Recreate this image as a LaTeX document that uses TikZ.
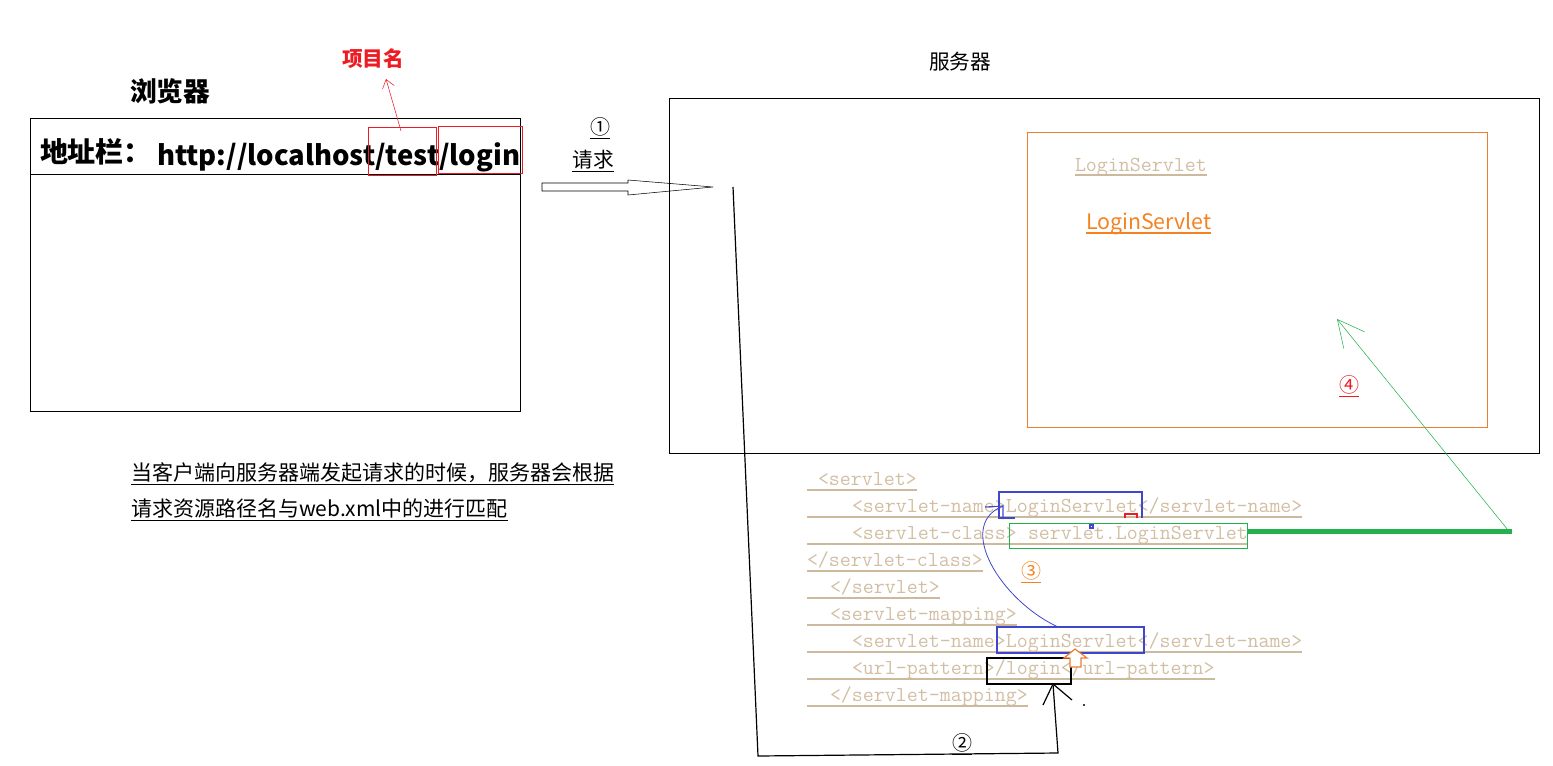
\documentclass[tikz,border=0pt]{standalone}
\usepackage{fontspec}
\setmainfont{Noto Sans CJK SC}
\usetikzlibrary{arrows.meta,fit,calc}
\definecolor{redc}{HTML}{ED1C24}
\definecolor{orangec}{HTML}{ED7D31}
\definecolor{orangetxt}{HTML}{F58220}
\definecolor{tanc}{HTML}{D2BEA3}
\definecolor{tanul}{HTML}{CDB99E}
\definecolor{bluec}{HTML}{3F48CC}
\definecolor{greenc}{HTML}{22B14C}
\tikzset{
  frame/.style={draw, inner sep=0pt, outer sep=0pt},
  lbl/.style={inner sep=0pt, outer sep=0pt},
  xmltxt/.style={lbl, anchor=base west, text=tanc, font=\ttfamily\fontsize{16}{18}\selectfont},
  xmlul/.style={draw=tanul, line width=0.9pt},
  barb/.style={-{Straight Barb[length=6pt,width=9pt]}},
}
\begin{document}
\begin{tikzpicture}[x=0.75pt,y=-0.75pt]
\useasboundingbox (0,0) rectangle (1553,765);

% ---------- browser ----------
\node[frame, fit={(30,118) (520,411)}] (browser) {};
\draw ([yshift=-42pt]browser.north west) -- ([yshift=-42pt]browser.north east);
\node[lbl, anchor=base west, font=\bfseries\fontsize{20}{24}\selectfont] (bt) at (130,101) {浏览器};
\node[lbl, anchor=base west, font=\bfseries\fontsize{21}{24}\selectfont] (addr) at (40,162) {地址栏：};
\node[lbl, anchor=base west, font=\bfseries\fontsize{20.6}{24}\selectfont] (url) at (157,165) {http://localhost/test/login};
\node[frame, draw=redc, fit={(368,127) (436,175)}] (testbox) {};
\node[frame, draw=redc, fit={(438,126) (522,173)}] (loginbox) {};
\node[lbl, anchor=base west, text=redc, font=\bfseries\fontsize{15.5}{18}\selectfont] (proj) at (342,66) {项目名};
\coordinate (pa1) at (401,131);
\coordinate (pa2) at (386,79);
\draw[redc, barb] (pa1) -- (pa2);

% ---------- request arrow ----------
\node[lbl, font=\fontsize{15}{18}\selectfont] (n1) at (600,128) {\underline{①}};
\node[lbl, font=\fontsize{15.5}{18}\selectfont] (req) at (593,161) {\underline{请求}};
\draw (542,183) -- (628,183) -- (628,180) -- (713,187) -- (628,195) -- (628,191) -- (542,191) -- cycle;

% ---------- server ----------
\node[lbl, font=\fontsize{15.5}{18}\selectfont] (srv) at (960,62) {服务器};
\node[frame, fit={(669,98) (1539,453)}] (server) {};
\node[frame, draw=orangec, fit={(1027,132) (1487,427)}] (inner) {};
\node[lbl, anchor=base west, text=tanc, font=\ttfamily\fontsize{16}{18}\selectfont] (ls1) at (1075,171) {LoginServlet};
\draw[xmlul] ([yshift=-3pt]ls1.base west) -- ([yshift=-3pt]ls1.base east);
\node[lbl, anchor=base west, text=orangetxt, font=\fontsize{16}{18}\selectfont] (ls2) at (1086,229) {LoginServlet};
\draw[orangetxt, line width=0.9pt] ([yshift=-3pt]ls2.base west) -- ([yshift=-3pt]ls2.base east);
\node[lbl, text=redc, font=\fontsize{15}{18}\selectfont] (n4) at (1349,386) {\underline{④}};

% ---------- web.xml ----------
\coordinate (ul0) at (807,0);
\node[xmltxt] (x1) at (818,485) {<servlet>};
\node[xmltxt] (x2) at (852,512) {<servlet-name>LoginServlet</servlet-name>};
\node[xmltxt] (x3) at (852,539) {<servlet-class>\makebox[0.525em]{\tiny ..}servlet.LoginServlet};
\node[xmltxt] (x4) at (807,566) {</servlet-class>};
\node[xmltxt] (x5) at (830,593) {</servlet>};
\node[xmltxt] (x6) at (830,620) {<servlet-mapping>};
\node[xmltxt] (x7) at (852,647) {<servlet-name>LoginServlet</servlet-name>};
\node[xmltxt] (x8) at (852,674) {<url-pattern>/login</url-pattern>};
\node[xmltxt] (x9) at (830,701) {</servlet-mapping>};
\foreach \i in {1,...,9}{
  \coordinate (u\i) at ([yshift=-3.75pt]x\i.base east);
  \draw[xmlul] (u\i) -- (u\i -| ul0);
}

% boxes over the xml
\node[frame, draw=greenc, fit={(1009,523) (1247,548)}] (classbox) {};
\draw[greenc, line width=3.75pt] (1248,531) -- (1512,531);
\coordinate (g1) at (1508,530);
\coordinate (g2) at (1337,319);
\draw[greenc, -{Straight Barb[length=20pt,width=20pt]}] (g1) -- (g2);

\coordinate (nb1) at (1015,518);
\draw[bluec, line width=0.9pt] (nb1) -- (999,518) -- (999,492) -- (1142,492) -- (1142,518);
\draw[redc, line width=1pt] (1125,518) -- (1125,514) -- (1137,514) -- (1137,518);
\draw[bluec, line width=0.8pt] (1090,525) rectangle (1093,528);
\node[frame, draw=bluec, line width=0.9pt, fit={(997,627) (1144,653)}] (mapname) {};
\node[frame, line width=0.9pt, fit={(987,658) (1071,684)}] (urlbox) {};
\coordinate (bc0) at (1058,627);
\coordinate (bc1) at (1003,506);
\draw[bluec, line width=0.6pt] (bc0) .. controls (1000,600) and (955,525) .. (bc1);
\draw[bluec, line width=0.8pt] (985,507) -- (bc1) -- (1003,519);
\draw[orangec, fill=white, line width=0.9pt] (1075,649) -- (1087,658) -- (1081,658) -- (1081,667) -- (1070,667) -- (1070,658) -- (1064,658) -- cycle;
\node[lbl, text=orangetxt, font=\fontsize{15}{18}\selectfont] (n3) at (1031,572) {\underline{③}};

% ---------- path 2 ----------
\coordinate (p0) at (733,187);
\coordinate (p1) at (758,756);
\coordinate (p2) at (1058,753);
\coordinate (p3) at (1053,684);
\draw[line width=0.9pt] (p0) -- (p1) -- (p2) -- (p3);
\draw[line width=0.9pt] (1043,705) -- (p3) -- (1072,700);
\fill (1084,705) circle (0.8pt);
\node[lbl, font=\fontsize{15}{18}\selectfont] (n2) at (962,744) {\underline{②}};

% ---------- caption ----------
\node[lbl, anchor=west, font=\fontsize{15.75}{18}\selectfont] (cap1) at (131,474) {\underline{当客户端向服务器端发起请求的时候，服务器会根据}};
\node[lbl, anchor=west, font=\fontsize{15.75}{18}\selectfont] (cap2) at (131,510) {\underline{请求资源路径名与web.xml中的进行匹配}};
\end{tikzpicture}
\end{document}
